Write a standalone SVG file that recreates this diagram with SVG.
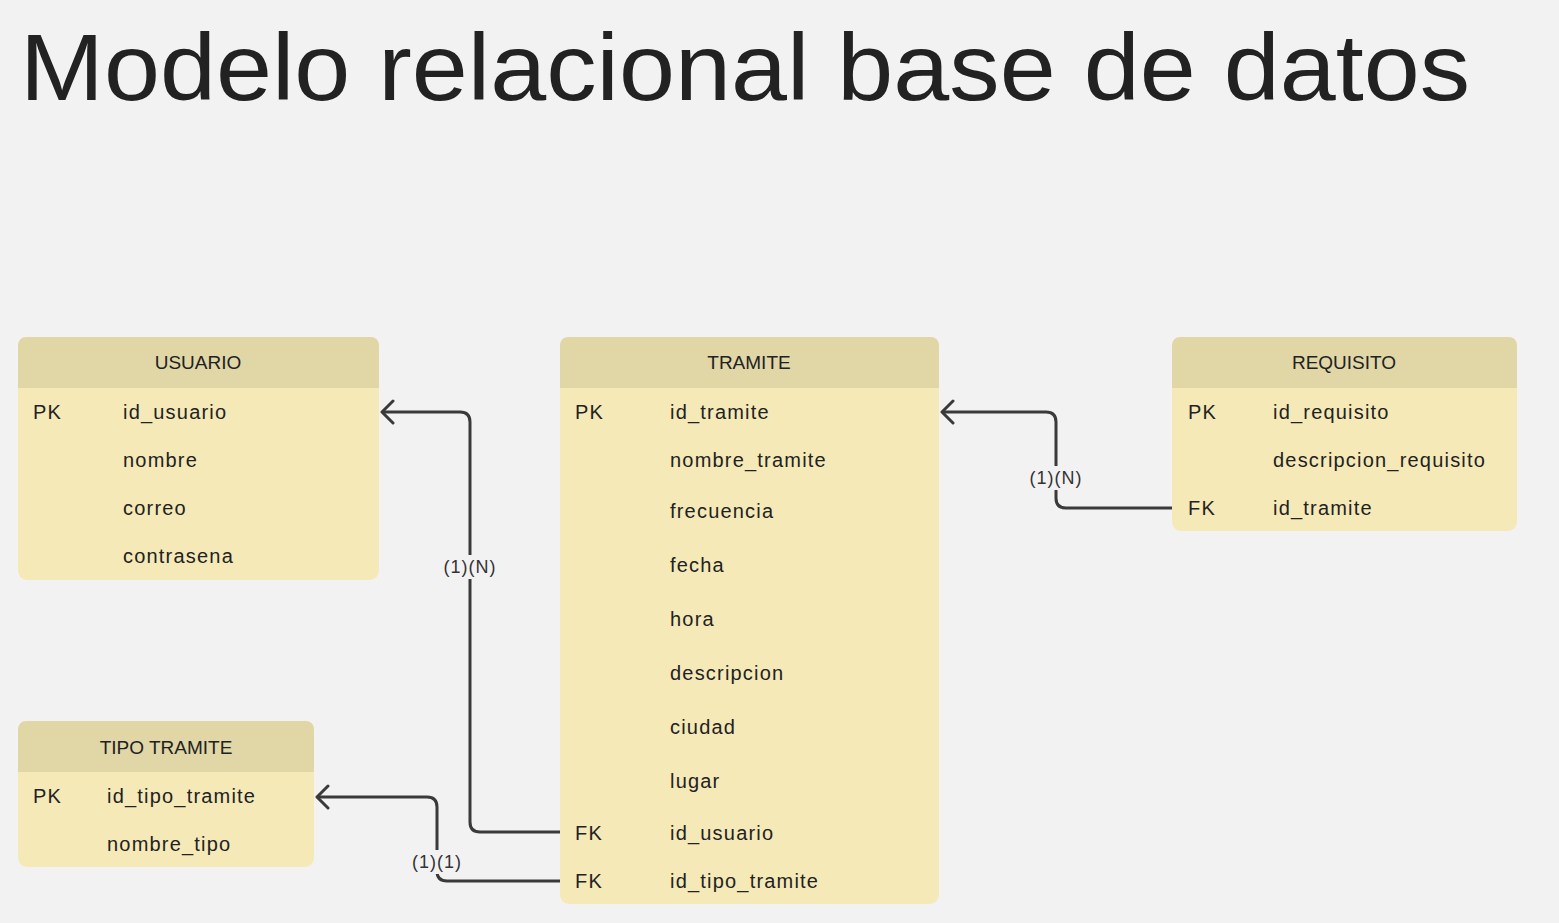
<svg xmlns="http://www.w3.org/2000/svg" width="1559" height="923" viewBox="0 0 1559 923">
<style>
.t{font-family:"Liberation Sans",Arial,sans-serif;fill:#222}
.hdr{fill:#e0d6a6}
.body{fill:#f5e9b8}
.f{font-size:20px;letter-spacing:1.2px;dominant-baseline:central}
.h{font-size:19px;text-anchor:middle;dominant-baseline:central}
.con{fill:none;stroke:#3a3a3a;stroke-width:3;stroke-linejoin:round}
.lbl{font-family:"Liberation Sans",Arial,sans-serif;font-size:18px;letter-spacing:1px;fill:#333;text-anchor:middle;dominant-baseline:central}
.lb{fill:#f2f2f2}
</style>
<defs>
<marker id="arr" markerWidth="18" markerHeight="28" refX="14" refY="13" orient="auto" markerUnits="userSpaceOnUse">
<path d="M3,2 L14,13 L3,24" fill="none" stroke="#3a3a3a" stroke-width="3" stroke-linecap="round" stroke-linejoin="round"/>
</marker>
</defs>
<rect width="1559" height="923" fill="#f2f2f2"/>
<text class="t" x="20" y="100" font-size="95" textLength="1450" lengthAdjust="spacingAndGlyphs" fill="#1c1c1c">Modelo relacional base de datos</text>

<g id="connectors">
<path class="con" d="M560,832 H480 Q470,832 470,822 V422 Q470,412 460,412 H382" marker-end="url(#arr)"/>
<path class="con" d="M560,881 H447 Q437,881 437,871 V807 Q437,797 427,797 H317" marker-end="url(#arr)"/>
<path class="con" d="M1172,508 H1066 Q1056,508 1056,498 V422 Q1056,412 1046,412 H942" marker-end="url(#arr)"/>
<rect class="lb" x="440" y="555" width="60" height="24"/>
<text class="lbl" x="470" y="567">(1)(N)</text>
<rect class="lb" x="407" y="850" width="60" height="24"/>
<text class="lbl" x="437" y="862">(1)(1)</text>
<rect class="lb" x="1026" y="466" width="60" height="24"/>
<text class="lbl" x="1056" y="478">(1)(N)</text>
</g>

<g id="usuario">
<rect class="body" x="18" y="337" width="361" height="243" rx="9"/>
<path class="hdr" d="M18,388 V346 Q18,337 27,337 H370 Q379,337 379,346 V388 Z"/>
<text class="t h" x="198" y="362">USUARIO</text>
<text class="t f" x="33" y="412">PK</text>
<text class="t f" x="123" y="412">id_usuario</text>
<text class="t f" x="123" y="460">nombre</text>
<text class="t f" x="123" y="508">correo</text>
<text class="t f" x="123" y="556">contrasena</text>
</g>

<g id="tramite">
<rect class="body" x="560" y="337" width="379" height="567" rx="9"/>
<path class="hdr" d="M560,388 V346 Q560,337 569,337 H930 Q939,337 939,346 V388 Z"/>
<text class="t h" x="749" y="362">TRAMITE</text>
<text class="t f" x="575" y="412">PK</text>
<text class="t f" x="670" y="412">id_tramite</text>
<text class="t f" x="670" y="460">nombre_tramite</text>
<text class="t f" x="670" y="511">frecuencia</text>
<text class="t f" x="670" y="565">fecha</text>
<text class="t f" x="670" y="619">hora</text>
<text class="t f" x="670" y="673">descripcion</text>
<text class="t f" x="670" y="727">ciudad</text>
<text class="t f" x="670" y="781">lugar</text>
<text class="t f" x="575" y="833">FK</text>
<text class="t f" x="670" y="833">id_usuario</text>
<text class="t f" x="575" y="881">FK</text>
<text class="t f" x="670" y="881">id_tipo_tramite</text>
</g>

<g id="requisito">
<rect class="body" x="1172" y="337" width="345" height="194" rx="9"/>
<path class="hdr" d="M1172,388 V346 Q1172,337 1181,337 H1508 Q1517,337 1517,346 V388 Z"/>
<text class="t h" x="1344" y="362">REQUISITO</text>
<text class="t f" x="1188" y="412">PK</text>
<text class="t f" x="1273" y="412">id_requisito</text>
<text class="t f" x="1273" y="460">descripcion_requisito</text>
<text class="t f" x="1188" y="508">FK</text>
<text class="t f" x="1273" y="508">id_tramite</text>
</g>

<g id="tipo_tramite">
<rect class="body" x="18" y="721" width="296" height="146" rx="9"/>
<path class="hdr" d="M18,772 V730 Q18,721 27,721 H305 Q314,721 314,730 V772 Z"/>
<text class="t h" x="166" y="747">TIPO TRAMITE</text>
<text class="t f" x="33" y="796">PK</text>
<text class="t f" x="107" y="796">id_tipo_tramite</text>
<text class="t f" x="107" y="844">nombre_tipo</text>
</g>
</svg>
